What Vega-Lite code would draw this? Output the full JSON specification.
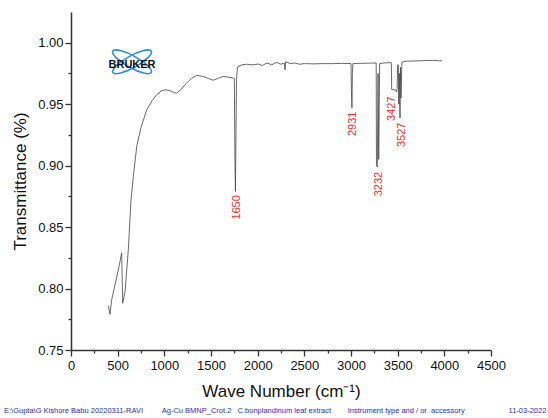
{
  "$schema": "https://vega.github.io/schema/vega-lite/v6.json",
  "width": 420,
  "height": 338,
  "autosize": "none",
  "padding": {"left": 71, "top": 12, "right": 57, "bottom": 68},
  "config": {
    "view": {"stroke": null},
    "font": "Liberation Sans",
    "axis": {"grid": false, "labelFlush": false, "domainColor": "#333333", "domainWidth": 1.5, "tickColor": "#333333", "tickWidth": 1.3, "labelColor": "#111111", "labelFontSize": 13, "titleFontSize": 17, "titleFontWeight": "normal", "titleColor": "#111111", "labelFont": "Liberation Sans", "titleFont": "Liberation Sans"}
  },
  "title": {
    "text": "E:\\Gupta\\G Kishore Babu 20220311-RAVI\u00a0\u00a0\u00a0\u00a0\u00a0\u00a0\u00a0\u00a0\u00a0Ag-Cu BMNP_Crot.2\u00a0\u00a0\u00a0C.bonplandinum leaf extract\u00a0\u00a0\u00a0\u00a0\u00a0\u00a0\u00a0\u00a0Instrument type and / or\u00a0\u00a0accessory\u00a0\u00a0\u00a0\u00a0\u00a0\u00a0\u00a0\u00a0\u00a0\u00a0\u00a0\u00a0\u00a0\u00a0\u00a0\u00a0\u00a0\u00a0\u00a0\u00a0\u00a011-03-2022",
    "orient": "bottom",
    "anchor": "start",
    "frame": "group",
    "dx": -67,
    "offset": 8,
    "fontSize": 7.5,
    "fontWeight": "normal",
    "font": "Liberation Sans",
    "color": "#2b2bd0"
  },
  "datasets": {
    "spectrum": [
      {"w": 400, "t": 0.786}, {"w": 418, "t": 0.779}, {"w": 436, "t": 0.791}, {"w": 480, "t": 0.806},
      {"w": 515, "t": 0.818}, {"w": 543, "t": 0.829}, {"w": 554, "t": 0.788}, {"w": 579, "t": 0.7975},
      {"w": 614, "t": 0.8314}, {"w": 643, "t": 0.872}, {"w": 670, "t": 0.8925}, {"w": 704, "t": 0.9156},
      {"w": 750, "t": 0.931}, {"w": 811, "t": 0.9454}, {"w": 870, "t": 0.953}, {"w": 918, "t": 0.9577},
      {"w": 970, "t": 0.961}, {"w": 1018, "t": 0.9617}, {"w": 1060, "t": 0.961}, {"w": 1100, "t": 0.9595},
      {"w": 1132, "t": 0.959}, {"w": 1180, "t": 0.962}, {"w": 1221, "t": 0.9658}, {"w": 1290, "t": 0.971},
      {"w": 1347, "t": 0.9734}, {"w": 1414, "t": 0.9726}, {"w": 1470, "t": 0.971}, {"w": 1521, "t": 0.9695},
      {"w": 1580, "t": 0.971}, {"w": 1629, "t": 0.9726}, {"w": 1690, "t": 0.972}, {"w": 1740, "t": 0.9712},
      {"w": 1750, "t": 0.971}, {"w": 1757, "t": 0.9}, {"w": 1762, "t": 0.879}, {"w": 1768, "t": 0.93},
      {"w": 1773, "t": 0.97}, {"w": 1784, "t": 0.98}, {"w": 1800, "t": 0.981}, {"w": 1829, "t": 0.982},
      {"w": 1882, "t": 0.9825}, {"w": 1950, "t": 0.982}, {"w": 2007, "t": 0.9827}, {"w": 2050, "t": 0.9815},
      {"w": 2100, "t": 0.9835}, {"w": 2150, "t": 0.982}, {"w": 2200, "t": 0.984}, {"w": 2250, "t": 0.9825},
      {"w": 2285, "t": 0.9835}, {"w": 2293, "t": 0.978}, {"w": 2300, "t": 0.9845}, {"w": 2350, "t": 0.983},
      {"w": 2400, "t": 0.9835}, {"w": 2450, "t": 0.9825}, {"w": 2500, "t": 0.983}, {"w": 2600, "t": 0.9828},
      {"w": 2700, "t": 0.983}, {"w": 2800, "t": 0.983}, {"w": 2900, "t": 0.9832}, {"w": 3000, "t": 0.983},
      {"w": 3005, "t": 0.96}, {"w": 3010, "t": 0.947}, {"w": 3015, "t": 0.975}, {"w": 3020, "t": 0.983},
      {"w": 3100, "t": 0.9832}, {"w": 3200, "t": 0.9834}, {"w": 3270, "t": 0.9835}, {"w": 3273, "t": 0.9},
      {"w": 3282, "t": 0.899}, {"w": 3290, "t": 0.975}, {"w": 3297, "t": 0.905}, {"w": 3307, "t": 0.983},
      {"w": 3350, "t": 0.9835}, {"w": 3420, "t": 0.9838}, {"w": 3432, "t": 0.9838}, {"w": 3436, "t": 0.962},
      {"w": 3480, "t": 0.9615}, {"w": 3489, "t": 0.96}, {"w": 3494, "t": 0.962}, {"w": 3500, "t": 0.982},
      {"w": 3507, "t": 0.982}, {"w": 3512, "t": 0.95}, {"w": 3518, "t": 0.975}, {"w": 3525, "t": 0.9387},
      {"w": 3530, "t": 0.98}, {"w": 3536, "t": 0.955}, {"w": 3545, "t": 0.984}, {"w": 3560, "t": 0.9845},
      {"w": 3596, "t": 0.985}, {"w": 3700, "t": 0.9852}, {"w": 3800, "t": 0.9855}, {"w": 3882, "t": 0.9856},
      {"w": 3950, "t": 0.9853}, {"w": 3975, "t": 0.9853}
    ],
    "peaks": [
      {"label": "1650", "w": 1775, "t": 0.876},
      {"label": "2931", "w": 3024, "t": 0.944},
      {"label": "3232", "w": 3300, "t": 0.895},
      {"label": "3427", "w": 3438, "t": 0.9563},
      {"label": "3527", "w": 3543, "t": 0.935}
    ],
    "logo": [
      {"w": 654, "t": 0.9845, "shape": "M -0.875 -0.485 A 1 0.27 29 1 1 0.875 0.485 A 1 0.27 29 1 1 -0.875 -0.485 Z"},
      {"w": 654, "t": 0.9845, "shape": "M -0.875 0.485 A 1 0.27 -29 1 1 0.875 -0.485 A 1 0.27 -29 1 1 -0.875 0.485 Z"}
    ],
    "brand": [{"w": 654, "t": 0.982, "name": "BRUKER"}]
  },
  "encoding": {
    "x": {"field": "w", "type": "quantitative", "scale": {"domain": [0, 4500], "nice": false, "zero": false},
      "axis": {"values": [0,250,500,750,1000,1250,1500,1750,2000,2250,2500,2750,3000,3250,3500,3750,4000,4250,4500],
        "labelExpr": "datum.value % 500 === 0 ? format(datum.value, 'd') : ''",
        "tickSize": {"condition": {"test": "datum.value % 500 === 0", "value": 6}, "value": 3},
        "labelPadding": 3, "title": "Wave Number (cm\u207b\u00b9)", "titlePadding": 11}},
    "y": {"field": "t", "type": "quantitative", "scale": {"domain": [0.75, 1.025], "nice": false, "zero": false},
      "axis": {"values": [0.75,0.775,0.8,0.825,0.85,0.875,0.9,0.925,0.95,0.975,1.0],
        "labelExpr": "round(datum.value*1000) % 50 === 0 ? format(datum.value, '.2f') : ''",
        "tickSize": {"condition": {"test": "round(datum.value*1000) % 50 === 0", "value": 6}, "value": 3},
        "labelPadding": 2, "title": "Transmittance (%)", "titlePadding": 8}}
  },
  "layer": [
    {"data": {"name": "spectrum"}, "mark": {"type": "line", "color": "#444444", "strokeWidth": 0.8}},
    {"data": {"name": "peaks"}, "mark": {"type": "text", "angle": 270, "align": "right", "baseline": "middle", "fontSize": 11, "color": "#ff2a2a", "font": "Liberation Sans"},
      "encoding": {"text": {"field": "label"}}},
    {"data": {"name": "logo"}, "mark": {"type": "point", "filled": false, "size": 1936, "color": "#2a8ae8", "strokeWidth": 1.6, "opacity": 1},
      "encoding": {"shape": {"field": "shape", "type": "nominal", "scale": null}}},
    {"data": {"name": "brand"}, "mark": {"type": "text", "fontSize": 11, "fontWeight": "bold", "color": "#111111", "font": "Liberation Sans", "baseline": "middle"},
      "encoding": {"text": {"field": "name"}}}
  ]
}
